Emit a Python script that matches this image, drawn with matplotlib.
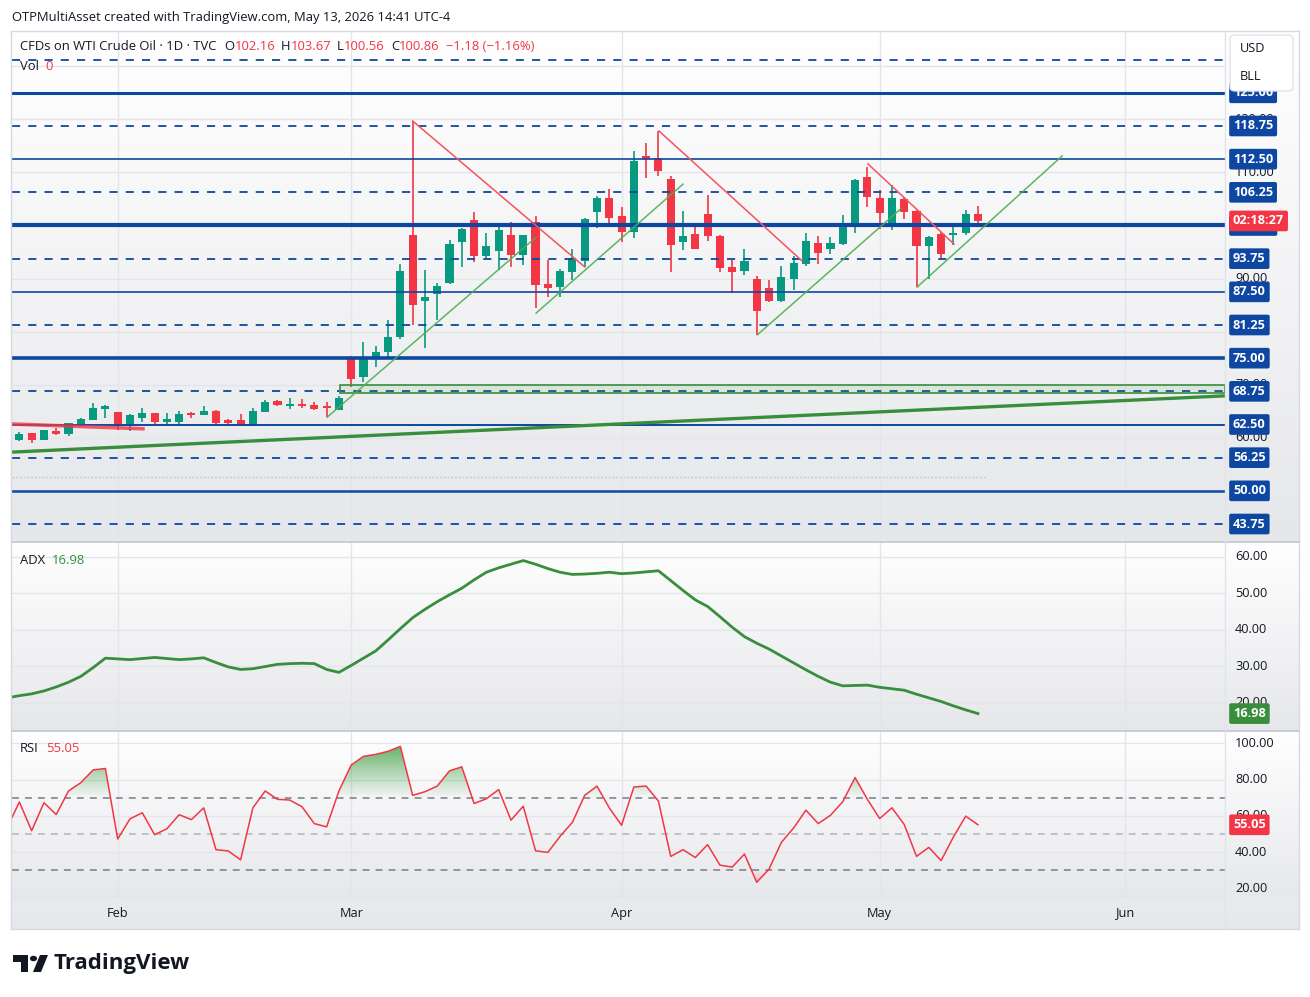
import matplotlib
matplotlib.use("Agg")
import matplotlib.pyplot as plt
import matplotlib.transforms as mtransforms
from matplotlib.patches import FancyBboxPatch, Polygon, Circle, Rectangle
from matplotlib.lines import Line2D
from matplotlib.path import Path
import numpy as np
import pandas as pd

plt.rcParams['font.family'] = ['Open Sans', 'DejaVu Sans']

# trading calendar (US holidays removed)
holidays = ['2026-02-16', '2026-04-03', '2026-05-25']
calendar = pd.bdate_range('2026-01-20', '2026-06-30')
calendar = calendar[~calendar.isin(pd.to_datetime(holidays))]

# daily OHLC, Jan 20 -> May 13 2026
opens = [59.3, 59.6, 60.9, 59.6, 61.3, 60.7, 62.4, 63.4, 65.5,
         64.9, 62.3, 63.8, 64.7, 63.0, 62.9, 64.6, 64.2, 65.0, 63.3, 63.4, 62.3, 64.9, 66.9, 65.9, 66.4, 66.2, 65.9, 65.2,
         75.3, 71.4, 74.8, 76.2, 79.05, 98.2, 85.8, 87.0, 89.2, 96.8, 101.0, 94.3, 95.2, 98.2, 94.4, 100.7, 89.0, 88.5, 91.3, 93.3, 102.6, 105.2,
         101.8, 98.7, 113.1, 112.7, 108.8, 96.8, 98.4, 102.2, 98.0, 92.1, 91.5, 89.9, 88.2, 85.8, 90.0, 92.8, 96.7, 95.6, 96.5, 99.8, 109.1,
         105.2, 99.8, 105.0, 102.7, 96.2, 98.4, 98.3, 98.5, 102.16]
highs = [60.1, 61.1, 60.9, 61.5, 61.8, 62.8, 63.8, 66.6, 66.2,
         64.9, 64.4, 65.6, 64.7, 64.6, 65.0, 64.8, 66.0, 65.3, 63.5, 64.4, 65.6, 67.2, 67.1, 67.5, 67.3, 66.8, 66.8, 67.9,
         75.5, 78.0, 77.3, 82.2, 92.7, 119.7, 91.6, 89.2, 97.3, 99.6, 102.5, 98.6, 99.9, 100.7, 98.3, 101.8, 93.5, 91.8, 95.6, 101.5, 105.6, 106.8,
         103.5, 114.0, 115.6, 117.8, 109.3, 102.7, 100.4, 105.7, 98.2, 93.5, 95.6, 90.5, 89.7, 92.4, 94.3, 98.6, 98.0, 97.8, 102.0, 108.8, 111.0,
         106.7, 107.6, 105.4, 102.9, 98.0, 98.7, 100.5, 102.9, 103.67]
lows = [58.9, 59.4, 59.1, 59.6, 60.5, 60.4, 62.3, 63.3, 63.8,
        61.5, 61.3, 62.9, 62.6, 62.5, 62.6, 63.8, 64.2, 62.3, 62.3, 62.2, 62.2, 64.8, 66.0, 65.4, 65.6, 65.2, 63.9, 65.2,
        69.5, 70.6, 73.4, 75.2, 78.6, 81.3, 77.0, 82.1, 89.0, 92.2, 93.2, 93.8, 91.7, 92.2, 92.6, 84.4, 86.6, 86.6, 89.7, 92.2, 99.6, 99.8,
        96.8, 97.7, 109.0, 109.3, 91.3, 95.4, 95.6, 97.1, 91.2, 87.2, 90.7, 79.3, 85.6, 85.6, 87.8, 92.4, 92.8, 94.7, 96.4, 98.6, 103.5,
        99.4, 99.2, 101.3, 88.5, 90.0, 93.9, 96.4, 98.3, 100.56]
closes = [59.8, 60.7, 59.6, 61.5, 60.8, 62.8, 63.6, 65.6, 66.0,
          62.3, 64.2, 64.7, 62.9, 63.6, 64.4, 64.2, 65.0, 62.8, 62.8, 62.3, 65.0, 66.8, 66.2, 66.4, 66.0, 65.4, 65.6, 67.5,
          71.0, 74.8, 76.1, 78.9, 91.4, 85.1, 86.5, 88.6, 96.5, 99.3, 94.3, 96.1, 99.2, 94.4, 98.2, 88.8, 88.3, 91.4, 93.9, 101.2, 105.2, 101.5,
          98.8, 112.1, 112.5, 110.3, 96.4, 98.0, 95.6, 98.1, 92.0, 91.3, 93.3, 83.9, 85.8, 90.3, 92.9, 97.1, 94.9, 96.7, 99.7, 108.6, 105.4,
          102.4, 105.2, 102.6, 96.2, 97.8, 94.7, 98.5, 102.2, 100.86]

adx = [21.3, 21.9, 22.4, 23.2, 24.3, 25.6, 27.2, 29.6, 32.2, 32.0,
       31.8, 32.1, 32.4, 32.1, 31.8, 32.0, 32.3, 31.0, 29.8, 29.1,
       29.3, 29.9, 30.5, 30.7, 30.8, 30.7, 29.1, 28.3, 30.2, 32.2,
       34.2, 37.2, 40.3, 43.3, 45.6, 47.7, 49.6, 51.4, 53.7, 55.8,
       57.0, 58.0, 59.0, 58.0, 56.8, 55.8, 55.2, 55.3, 55.5, 55.8,
       55.4, 55.6, 55.9, 56.2, 53.5, 50.8, 48.2, 46.4, 43.6, 40.7,
       38.1, 36.3, 34.7, 32.8, 30.9, 29.0, 27.2, 25.6, 24.6, 24.7,
       24.8, 24.2, 23.8, 23.4, 22.3, 21.3, 20.3, 19.1, 18.0, 16.98]

rsi = [53.5, 67.6, 51.8, 67.2, 60.7, 73.7, 78.3, 85.3, 86.1, 47.2,
       58.3, 61.7, 49.6, 52.8, 60.6, 57.9, 64.4, 41.3, 40.6, 35.7,
       64.4, 73.7, 69.1, 68.7, 65.0, 55.7, 53.9, 73.7, 88.0, 92.8,
       93.9, 95.6, 98.3, 71.3, 73.3, 76.4, 84.8, 87.0, 66.8, 69.4,
       74.5, 57.6, 65.3, 40.7, 39.8, 48.7, 56.4, 71.3, 76.4, 64.4,
       54.8, 75.9, 76.4, 68.1, 37.6, 41.3, 37.0, 44.1, 32.8, 31.7,
       38.9, 23.3, 30.6, 45.3, 53.3, 63.1, 55.7, 60.3, 67.8, 81.1,
       69.1, 58.5, 64.4, 55.2, 37.6, 42.6, 35.3, 48.3, 59.8, 55.05]

month_labels = ["Feb", "Mar", "Apr", "May", "Jun"]
month_numbers = [2, 3, 4, 5, 6]

# drawn levels
solid_levels = [125.0, 112.5, 100.0, 87.5, 75.0, 62.5, 50.0]
dashed_levels = [131.25, 118.75, 106.25, 93.75, 81.25, 68.75, 56.25, 43.75]
price_ticks = [130, 120, 110, 100, 90, 80, 70, 60, 50]
adx_ticks = [60, 50, 40, 30, 20]
rsi_ticks = [100, 80, 60, 40, 20]

# trend line anchors: (bar index, price)
red_lines = [((33.0, 119.7), (47.0, 92.2)),
             ((53.05, 117.8), (64.7, 93.3)),
             ((70.05, 111.6), (77.05, 96.5))]
green_lines = [((26.05, 63.9), (43.0, 97.7)),
               ((43.05, 83.5), (55.0, 107.8)),
               ((61.05, 79.4), (72.8, 103.3)),
               ((74.05, 88.4), (85.85, 113.1))]
long_trend = ((0.4, 57.3), (99.1, 67.9))
early_red = ((0.4, 62.6), (11.05, 61.7))
zone = (27.1, 68.45, 69.95)   # start bar, low, high
dotted_level = (52.6, 79.6)   # price, end bar

GREEN = '#089981'
RED = '#f23645'
BLUE = '#0d47a1'
TXT = '#131722'
GRID = '#e3e5ea'

W, H = 1310, 997
fig = plt.figure(figsize=(W / 100, H / 100), dpi=100)
fig.patch.set_facecolor('white')


def rect(x0, y0, x1, y1):
    return [x0 / W, 1 - y1 / H, (x1 - x0) / W, (y1 - y0) / H]


def gradient(y0, y1, top, bottom, x1=1299):
    bg = fig.add_axes(rect(12, y0, x1, y1), zorder=0)
    bg.set_axis_off()
    t = np.linspace(0, 1, 200)[:, None, None]
    img = np.array(top)[None, None, :] * (1 - t) + np.array(bottom)[None, None, :] * t
    bg.imshow(img, aspect='auto', extent=[0, 1, 0, 1], interpolation='bilinear')
    bg.set_xlim(0, 1)
    bg.set_ylim(0, 1)


gradient(32, 542, (1, 1, 1), (0.902, 0.906, 0.918))
gradient(542, 731, (1, 1, 1), (0.902, 0.906, 0.918))
gradient(731, 897, (1, 1, 1), (0.906, 0.91, 0.922))
gradient(897, 929, (0.914, 0.918, 0.929), (0.906, 0.91, 0.922))

x = np.arange(len(closes))
xmin, xmax = 0.4, 99.1
month_pos = [int(np.argmax(calendar.month == m)) for m in month_numbers]


def pane(y0, y1, ylim):
    ax = fig.add_axes(rect(12, y0, 1225, y1), zorder=2)
    ax.set_facecolor('none')
    ax.set_xlim(xmin, xmax)
    ax.set_ylim(*ylim)
    for s in ax.spines.values():
        s.set_visible(False)
    ax.set_xticks([])
    ax.set_yticks([])
    for p in month_pos:
        ax.axvline(p, color=GRID, lw=1, zorder=0.5)
    return ax


def right_label(ax, v, txt, color=TXT, box=None, size=9.2, xpx=1235):
    tr = mtransforms.blended_transform_factory(ax.transAxes, ax.transData)
    xf = (xpx - 12) / 1213
    if box is None:
        ax.text(xf, v, txt, color=color, fontsize=size, va='center', ha='left',
                transform=tr, clip_on=False, zorder=5)
    else:
        ax.text(xf, v, txt, color='white', fontsize=size, va='center', ha='left',
                fontweight='bold', transform=tr, clip_on=False, zorder=6,
                bbox=dict(boxstyle='round,pad=0.3,rounding_size=0.15', fc=box, ec='none'))


# ---------------- price pane ----------------
ax_p = pane(32, 541, (40.55, 136.46))
for v in price_ticks:
    ax_p.axhline(v, color=GRID, lw=1, zorder=0.5)

o = np.array(opens)
c = np.array(closes)
up = c >= o
cols = np.where(up, GREEN, RED)
bottoms = np.minimum(o, c)
heights = np.maximum(np.abs(c - o), 0.18)
ax_p.vlines(x, lows, highs, colors=cols, lw=1.2, zorder=3)
ax_p.bar(x, heights, bottom=bottoms, width=0.66, color=cols, zorder=3.1)

lw_map = {125.0: 2.2, 100.0: 3.0, 75.0: 2.6, 50.0: 1.8, 62.5: 1.4, 112.5: 1.2, 87.5: 1.2}
for v in solid_levels:
    ax_p.axhline(v, color=BLUE, lw=lw_map[v], zorder=3.5)
for v in dashed_levels:
    ax_p.axhline(v, color=BLUE, lw=1.3, ls=(0, (4.5, 4.5)), zorder=3.5)

ax_p.hlines(dotted_level[0], xmin, dotted_level[1], color='#c3c6ce', lw=0.9, ls=(0, (1.5, 1.5)), zorder=1)

ax_p.add_patch(Rectangle((zone[0], zone[1]), xmax - zone[0], zone[2] - zone[1],
                         fc=(0.30, 0.69, 0.31, 0.12), ec='#388e3c', lw=1.2, zorder=3.6))

(a, b) = long_trend
ax_p.plot([a[0], b[0]], [a[1], b[1]], color='#388e3c', lw=2.4, zorder=3.7, solid_capstyle='butt')
(a, b) = early_red
ax_p.plot([a[0], b[0]], [a[1], b[1]], color=RED, lw=2.6, alpha=0.8, zorder=3.7)
for a, b in red_lines:
    ax_p.plot([a[0], b[0]], [a[1], b[1]], color='#f7525f', lw=1.1, zorder=4)
for a, b in green_lines:
    ax_p.plot([a[0], b[0]], [a[1], b[1]], color='#4caf50', lw=1.1, alpha=0.9, zorder=4)

for v in price_ticks:
    right_label(ax_p, v, f"{v:.2f}")
for v in solid_levels + dashed_levels[1:]:
    right_label(ax_p, v, f"{v:.2f}", box=BLUE, xpx=1233)
right_label(ax_p, closes[-1], "02:18:27", box=RED, xpx=1233)

# ---------------- ADX pane ----------------
ax_a = pane(542, 731, (12.2, 64.1))
for v in adx_ticks:
    ax_a.axhline(v, color=GRID, lw=1, zorder=0.5)
ax_a.plot(x, adx, color='#388e3c', lw=2.0, zorder=3)
for v in adx_ticks:
    right_label(ax_a, v, f"{v:.2f}")
right_label(ax_a, adx[-1], f"{adx[-1]:.2f}", box='#388e3c', xpx=1233)

# ---------------- RSI pane ----------------
ax_r = pane(731, 897, (15.2, 106.8))
for v in rsi_ticks:
    ax_r.axhline(v, color=GRID, lw=1, zorder=0.5)
ax_r.axhline(70, color='#787b86', lw=1.1, ls=(0, (4.5, 4)), zorder=1)
ax_r.axhline(30, color='#787b86', lw=1.1, ls=(0, (4.5, 4)), zorder=1)
ax_r.axhline(50, color='#b2b5be', lw=1.1, ls=(0, (4.5, 4)), zorder=1)

r = np.array(rsi)
over = ax_r.fill_between(x, 70, r, where=r > 70, interpolate=True, fc='none', ec='none')
clip = Path.make_compound_path(*over.get_paths())
g = np.zeros((100, 2, 4))
g[..., 0], g[..., 1], g[..., 2] = 0.26, 0.63, 0.28
g[..., 3] = np.linspace(0.85, 0.0, 100)[:, None]
im = ax_r.imshow(g, extent=[x[0], x[-1], 70, 100], aspect='auto', origin='upper', zorder=1.5)
im.set_clip_path(clip, transform=ax_r.transData)

under = ax_r.fill_between(x, 30, r, where=r < 30, interpolate=True, fc='none', ec='none')
clip2 = Path.make_compound_path(*under.get_paths())
g2 = np.zeros((100, 2, 4))
g2[..., 0], g2[..., 1], g2[..., 2] = 0.95, 0.21, 0.27
g2[..., 3] = np.linspace(0.0, 0.6, 100)[:, None]
im2 = ax_r.imshow(g2, extent=[x[0], x[-1], 15.2, 30], aspect='auto', origin='upper', zorder=1.5)
im2.set_clip_path(clip2, transform=ax_r.transData)

ax_r.plot(x, r, color=RED, lw=1.1, zorder=3)
ax_r.set_xlim(xmin, xmax)
ax_r.set_ylim(15.2, 106.8)
for v in rsi_ticks:
    right_label(ax_r, v, f"{v:.2f}")
right_label(ax_r, rsi[-1], f"{rsi[-1]:.2f}", box=RED, xpx=1233)

# ---------------- time axis ----------------
ax_t = fig.add_axes(rect(12, 897, 1225, 929), zorder=2)
ax_t.set_facecolor('none')
ax_t.set_xlim(xmin, xmax)
ax_t.set_ylim(0, 1)
ax_t.set_axis_off()
for p, lab in zip(month_pos, month_labels):
    ax_t.text(p, 0.5, lab, ha='center', va='center', fontsize=9.2, color=TXT)

# ---------------- frame and separators ----------------
def fline(x0, y0, x1, y1, color='#d6d9e0', lw=1.0):
    fig.add_artist(Line2D([x0 / W, x1 / W], [1 - y0 / H, 1 - y1 / H], color=color, lw=lw, zorder=8))


fline(11, 31, 1299, 31)
fline(11, 929, 1299, 929)
fline(11, 31, 11, 929)
fline(1299, 31, 1299, 929)
fline(12, 542, 1299, 542, color='#c9ccd4', lw=1.4)
fline(12, 731, 1299, 731, color='#c9ccd4', lw=1.4)
fline(1225, 31, 1225, 929, color='#e0e3eb')
fline(12, 897, 1225, 897, color='#e0e3eb')

# currency box
fig.add_artist(FancyBboxPatch((1230 / W, 1 - 91 / H), 63 / W, 56 / H,
                              boxstyle='round,pad=0,rounding_size=0.004',
                              fc='white', ec='#e0e3eb', lw=1, zorder=20,
                              transform=fig.transFigure))
fig.text(1240 / W, 1 - 49 / H, "USD", fontsize=9.2, color=TXT, va='center', zorder=21)
fig.text(1240 / W, 1 - 77 / H, "BLL", fontsize=9.2, color=TXT, va='center', zorder=21)

# ---------------- texts ----------------
renderer = fig.canvas.get_renderer()


def text_run(xpx, ypx, pieces, size=9.4):
    for txt, color, gap in pieces:
        t = fig.text(xpx / W, 1 - ypx / H, txt, color=color, fontsize=size, va='center', zorder=21)
        xpx += t.get_window_extent(renderer).width + gap


fig.text(12 / W, 1 - 17 / H, "OTPMultiAsset created with TradingView.com, May 13, 2026 14:41 UTC-4",
         fontsize=9.4, color=TXT, va='center')
text_run(20, 47, [("CFDs on WTI Crude Oil · 1D · TVC", TXT, 8),
                  ("O", TXT, 0), (f"{opens[-1]:.2f}", RED, 6),
                  ("H", TXT, 0), (f"{highs[-1]:.2f}", RED, 6),
                  ("L", TXT, 0), (f"{lows[-1]:.2f}", RED, 6),
                  ("C", TXT, 0), (f"{closes[-1]:.2f}", RED, 7),
                  ("−1.18 (−1.16%)", RED, 0)])
text_run(20, 66, [("Vol", TXT, 6), ("0", RED, 0)])
text_run(20, 560, [("ADX", TXT, 7), (f"{adx[-1]:.2f}", '#388e3c', 0)])
text_run(20, 748, [("RSI", TXT, 7), (f"{rsi[-1]:.2f}", RED, 0)])

# TradingView logo
logo = '#131722'
fig.add_artist(Polygon([(13 / W, 1 - 955 / H), (28 / W, 1 - 955 / H), (28 / W, 1 - 972 / H),
                        (21 / W, 1 - 972 / H), (21 / W, 1 - 962 / H), (13 / W, 1 - 962 / H)],
                       closed=True, fc=logo, ec='none', transform=fig.transFigure, zorder=20))
fig.add_artist(Circle((33.5 / W, 1 - 958.5 / H), 3.6 / W, fc=logo, ec='none',
                      transform=fig.transFigure, zorder=20))
fig.add_artist(Polygon([(40 / W, 1 - 955 / H), (48 / W, 1 - 955 / H), (41 / W, 1 - 972 / H),
                        (33 / W, 1 - 972 / H)],
                       closed=True, fc=logo, ec='none', transform=fig.transFigure, zorder=20))
fig.text(54 / W, 1 - 963 / H, "TradingView", fontsize=16, fontweight='bold', color=logo, va='center')

fig.savefig("out.png", dpi=100)
